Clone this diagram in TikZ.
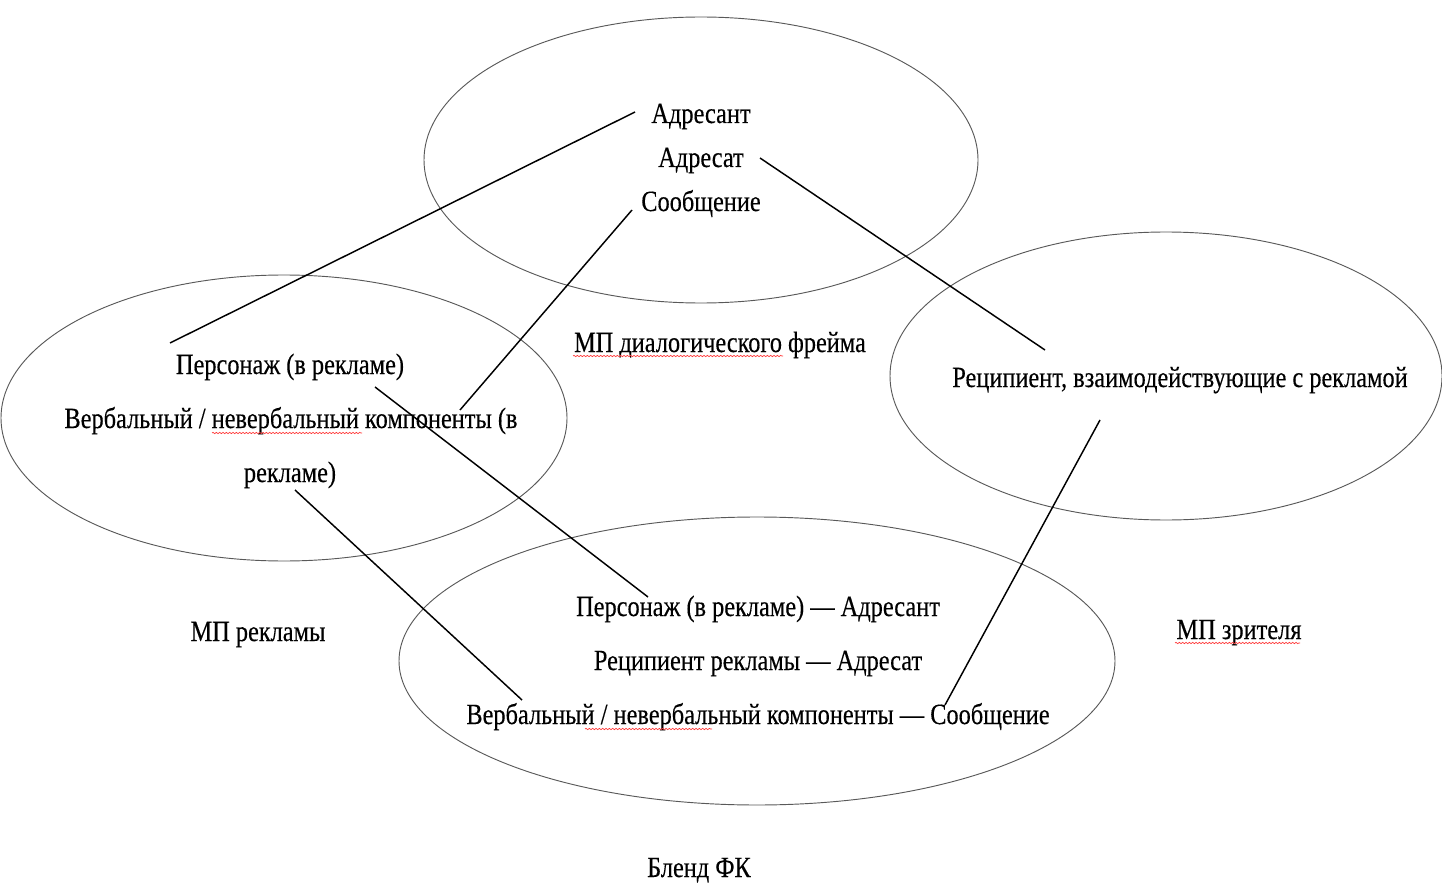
\documentclass[tikz,border=0pt]{standalone}
\usepackage{fontspec}
\setmainfont{Liberation Serif}
\newfontfamily\lblfont{Liberation Serif}[FakeBold=0.35]
\usetikzlibrary{decorations.pathmorphing}
\begin{document}
\begin{tikzpicture}[x=0.75pt,y=-0.75pt,
  ell/.style={draw=black!65,line width=0.7pt},
  lbl/.style={inner sep=0pt,anchor=base,xscale=0.83,font=\lblfont\fontsize{22}{26}\selectfont,text=black},
  conn/.style={draw=black,line width=1.1pt},
  spell/.style={draw=red!80,line width=0.5pt,decorate,decoration={snake,amplitude=0.5pt,segment length=2.5pt}}]
\useasboundingbox (0,0) rectangle (1442,884);
% ellipses
\draw[ell] (701,160) ellipse [x radius=277,y radius=143];
\draw[ell] (284,418) ellipse [x radius=283,y radius=143];
\draw[ell] (1166,376) ellipse [x radius=276,y radius=144];
\draw[ell] (757,661) ellipse [x radius=358,y radius=144];
% texts (base line positions)
\node[lbl] (adresant) at (701,123) {Адресант};
\node[lbl] (adresat) at (701,167) {Адресат};
\node[lbl] (soob) at (701,211) {Сообщение};
\node[lbl] (mpdf) at (720,352) {МП диалогического фрейма};
\node[lbl] (pers) at (290,374) {Персонаж (в рекламе)};
\node[lbl] (verb) at (291,428) {Вербальный / невербальный компоненты (в};
\node[lbl] (verb2) at (290,482) {рекламе)};
\node[lbl] (recip) at (1180,387) {Реципиент, взаимодействующие с рекламой};
\node[lbl] (b1) at (758,616) {Персонаж (в рекламе) — Адресант};
\node[lbl] (b2) at (758,670) {Реципиент рекламы — Адресат};
\node[lbl] (b3) at (758,724) {Вербальный / невербальный компоненты — Сообщение};
\node[lbl] (mpr) at (258,641) {МП рекламы};
\node[lbl] (mpz) at (1239,639) {МП зрителя};
\node[lbl] (blend) at (699,877) {Бленд ФК};
% spelling underlines
\draw[spell] (573,356) -- (783,356);
\draw[spell] (212,433) -- (362,433);
\draw[spell] (585,729) -- (712,729);
\draw[spell] (1175,643) -- (1300,643);
% connector end points
\coordinate (c1a) at (635,112);
\coordinate (c1b) at (170,343);
\coordinate (c2a) at (760,158);
\coordinate (c2b) at (1045,350);
\coordinate (c3a) at (632,210);
\coordinate (c3b) at (460,410);
\coordinate (c4a) at (375,387);
\coordinate (c4b) at (648,597);
\coordinate (c5a) at (295,490);
\coordinate (c5b) at (522,700);
\coordinate (c6a) at (1100,420);
\coordinate (c6b) at (945,705);
\draw[conn] (c1a) -- (c1b);
\draw[conn] (c2a) -- (c2b);
\draw[conn] (c3a) -- (c3b);
\draw[conn] (c4a) -- (c4b);
\draw[conn] (c5a) -- (c5b);
\draw[conn] (c6a) -- (c6b);
\end{tikzpicture}
\end{document}
